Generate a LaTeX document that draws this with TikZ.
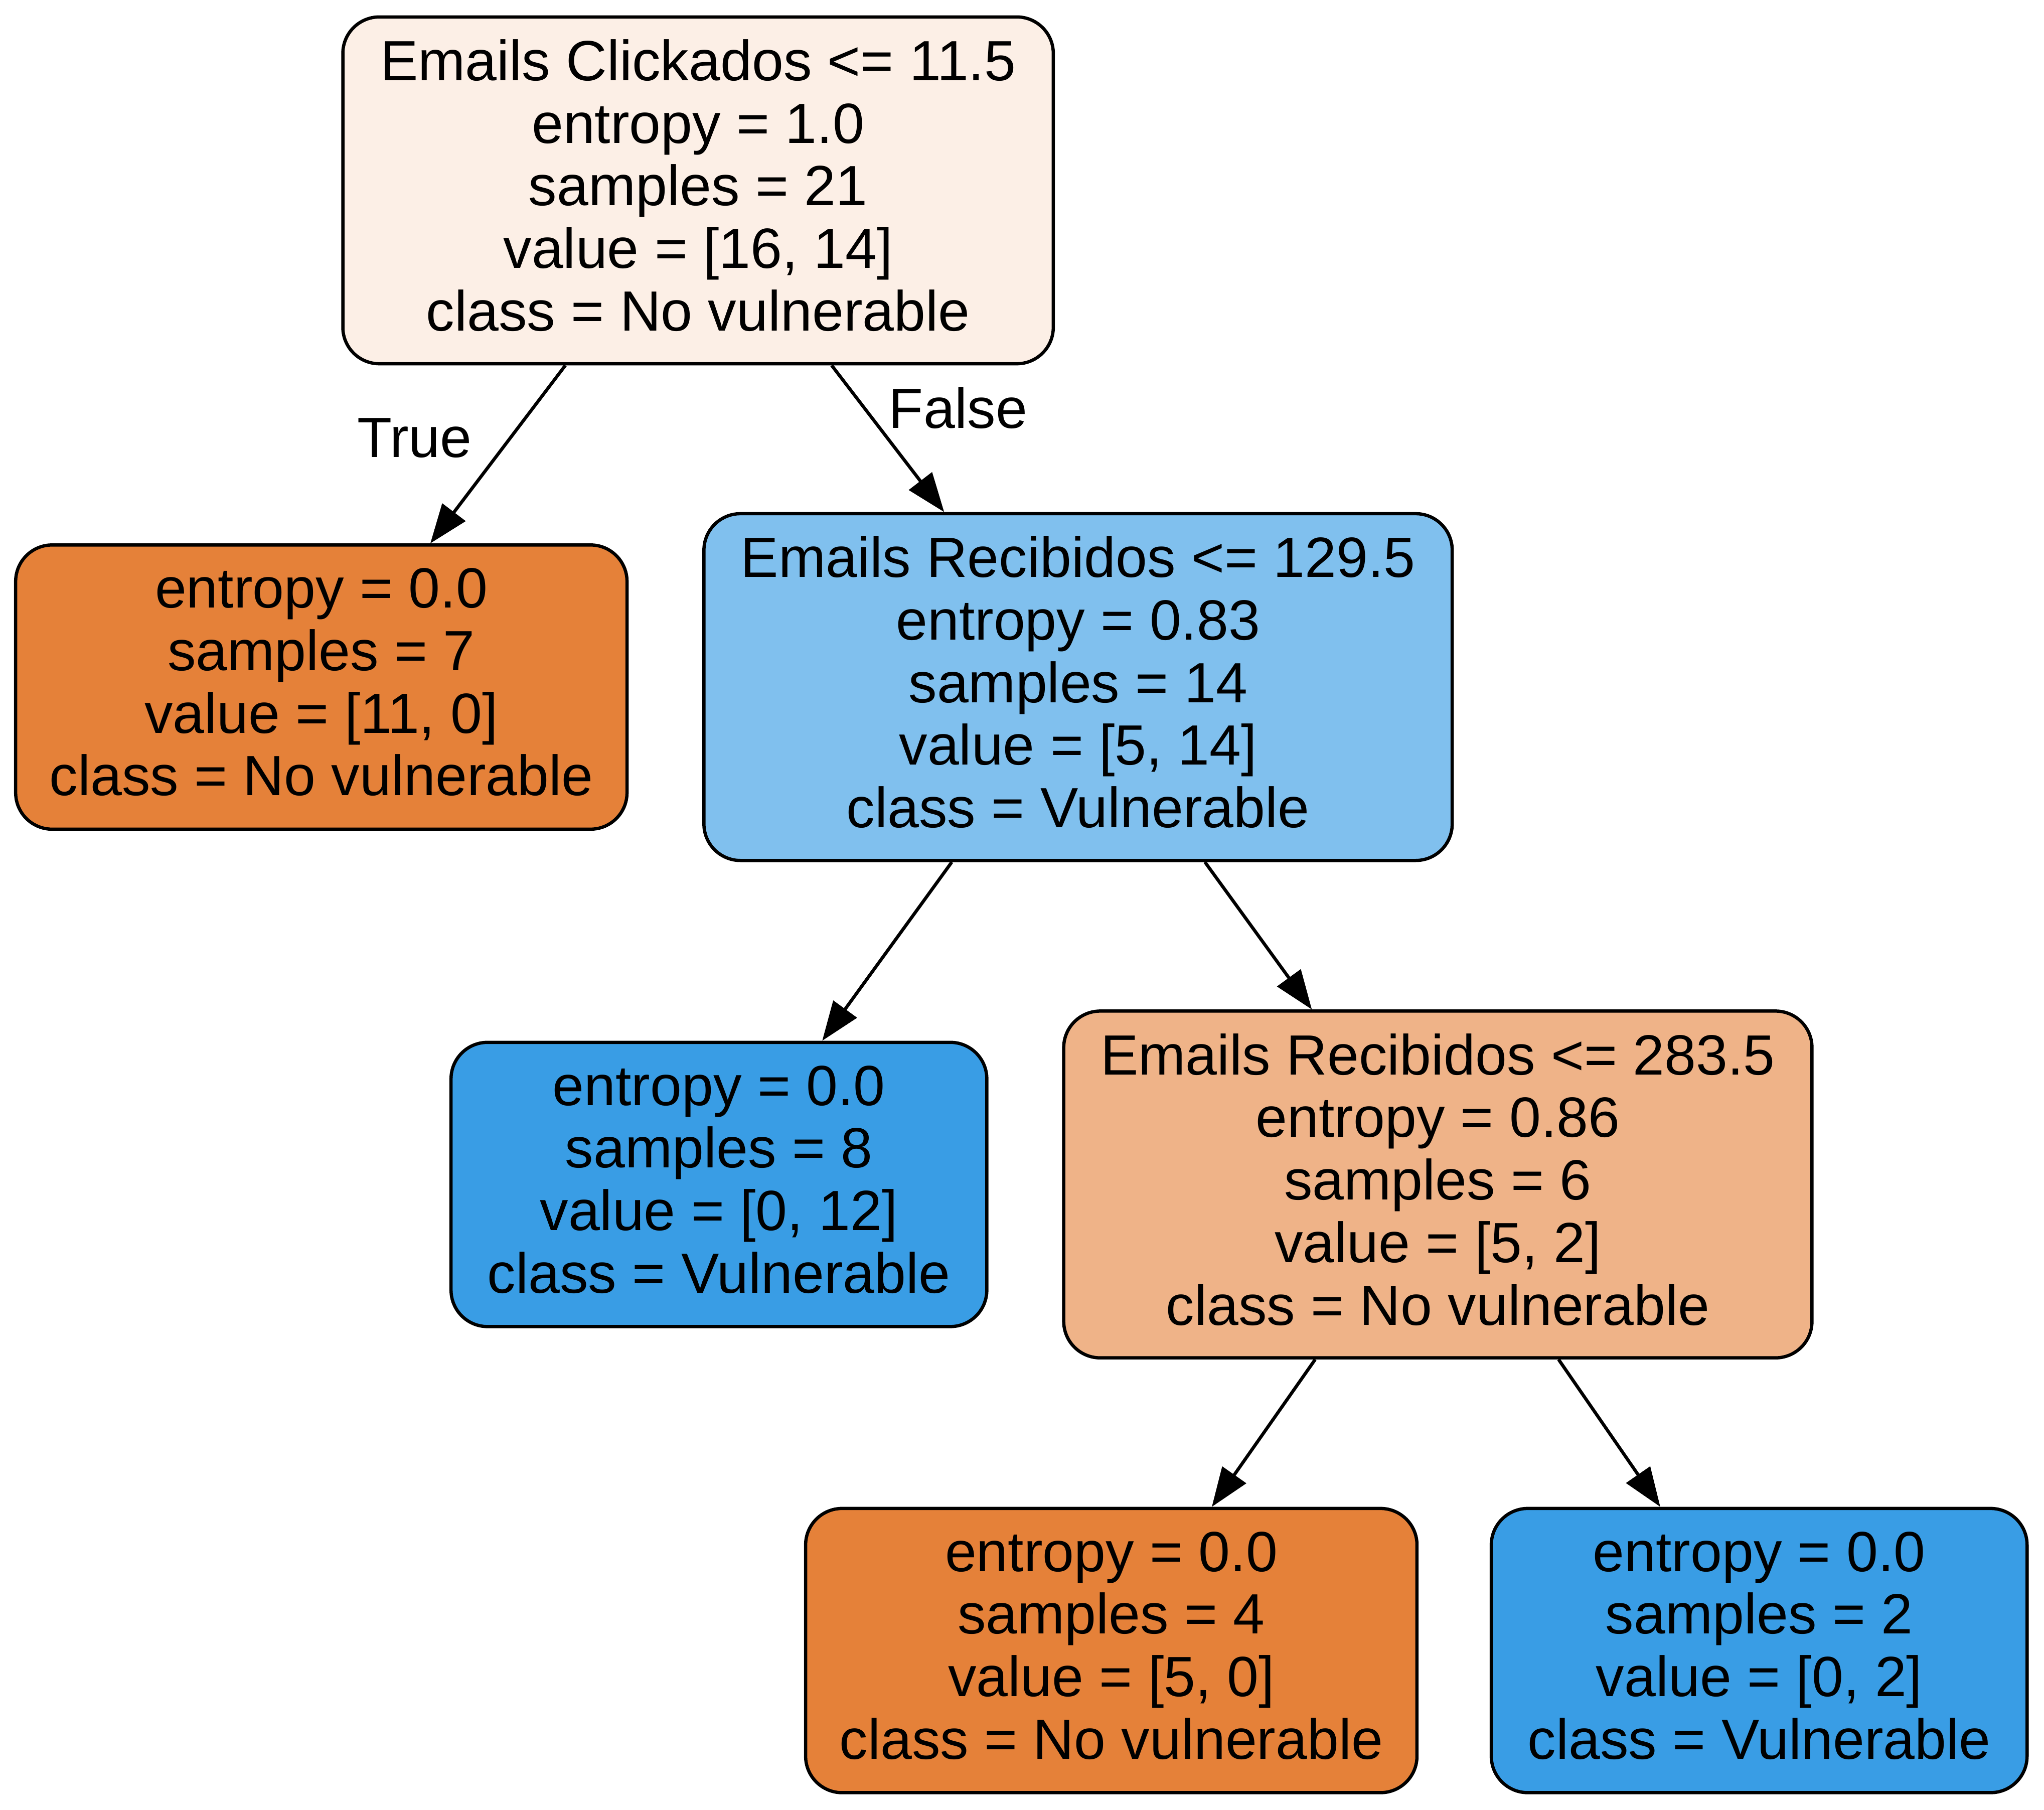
\documentclass[tikz,border=0pt]{standalone}
\usepackage{fontspec}
\setmainfont{Liberation Sans}
\usetikzlibrary{arrows.meta}
\definecolor{cRoot}{RGB}{252,239,230}
\definecolor{cOrange}{RGB}{229,129,57}
\definecolor{cLightBlue}{RGB}{128,192,238}
\definecolor{cBlue}{RGB}{57,157,229}
\definecolor{cPeach}{RGB}{239,179,136}
\tikzset{
  treenode/.style={draw=black, line width=2.5pt, rounded corners=28pt, align=center,
    inner sep=0pt, text depth=8pt, font=\fontsize{43.5pt}{48pt}\selectfont},
  fivebox/.style={treenode, minimum height=266pt},
  fourbox/.style={treenode, minimum height=218pt},
  edge/.style={line width=2.5pt, -{Triangle[length=30pt,width=22pt]}},
  elabel/.style={font=\fontsize{43.5pt}{48pt}\selectfont, inner sep=0pt}
}
\begin{document}
\begin{tikzpicture}[x=1pt,y=-1pt]
\useasboundingbox (0,0) rectangle (1568,1388);
\node[fivebox, fill=cRoot, minimum width=545pt] (root) at (535.5,146)
  {Emails Clickados <= 11.5\\entropy = 1.0\\samples = 21\\value = [16, 14]\\class = No vulnerable};
\node[fourbox, fill=cOrange, minimum width=469pt] (l1) at (246.5,527)
  {entropy = 0.0\\samples = 7\\value = [11, 0]\\class = No vulnerable};
\node[fivebox, fill=cLightBlue, minimum width=574pt] (m1) at (827,527)
  {Emails Recibidos <= 129.5\\entropy = 0.83\\samples = 14\\value = [5, 14]\\class = Vulnerable};
\node[fourbox, fill=cBlue, minimum width=411pt] (l2) at (551.5,908.5)
  {entropy = 0.0\\samples = 8\\value = [0, 12]\\class = Vulnerable};
\node[fivebox, fill=cPeach, minimum width=574pt] (m2) at (1103,908.5)
  {Emails Recibidos <= 283.5\\entropy = 0.86\\samples = 6\\value = [5, 2]\\class = No vulnerable};
\node[fourbox, fill=cOrange, minimum width=469pt] (l3) at (852.5,1266)
  {entropy = 0.0\\samples = 4\\value = [5, 0]\\class = No vulnerable};
\node[fourbox, fill=cBlue, minimum width=411pt] (l4) at (1349.5,1266)
  {entropy = 0.0\\samples = 2\\value = [0, 2]\\class = Vulnerable};
\draw[edge] (root) -- (l1);
\draw[edge] (root) -- (m1);
\draw[edge] (m1) -- (l2);
\draw[edge] (m1) -- (m2);
\draw[edge] (m2) -- (l3);
\draw[edge] (m2) -- (l4);
\node[elabel] (tlabel) at (318,336) {True};
\node[elabel] (flabel) at (735,313) {False};
\end{tikzpicture}
\end{document}
